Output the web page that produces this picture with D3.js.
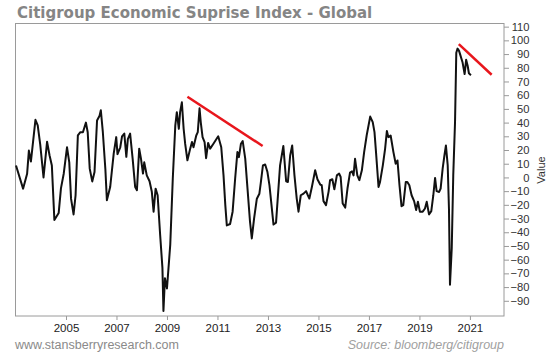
<!DOCTYPE html>
<html>
<head>
<meta charset="utf-8">
<script src="https://cdn.jsdelivr.net/npm/d3@7"></script>
<style>
  html, body { margin: 0; padding: 0; background: #fff; }
  svg { display: block; }
</style>
</head>
<body>
<svg id="chart" width="554" height="353"></svg>
<script>
// ---- data (decimal year, index value) ----
const dates = [
  2003.02,2003.30,2003.46,2003.53,2003.61,2003.79,2003.88,2003.98,2004.11,2004.25,
  2004.35,2004.44,2004.54,2004.71,2004.80,2004.91,2005.04,2005.13,2005.20,2005.30,
  2005.38,2005.47,2005.57,2005.67,2005.79,2005.86,2005.94,2006.04,2006.13,2006.23,
  2006.33,2006.38,2006.46,2006.56,2006.62,2006.75,2006.89,2006.99,2007.04,2007.15,
  2007.22,2007.31,2007.39,2007.45,2007.54,2007.64,2007.74,2007.81,2007.90,2007.97,
  2008.05,2008.10,2008.20,2008.31,2008.40,2008.47,2008.55,2008.63,2008.73,2008.82,
  2008.86,2008.92,2009.00,2009.13,2009.23,2009.33,2009.39,2009.47,2009.52,2009.59,
  2009.66,2009.72,2009.81,2009.92,2009.99,2010.05,2010.16,2010.22,2010.29,2010.34,
  2010.41,2010.49,2010.55,2010.63,2010.71,2010.84,2011.03,2011.15,2011.24,2011.31,
  2011.37,2011.50,2011.60,2011.70,2011.79,2011.85,2011.93,2012.00,2012.10,2012.19,
  2012.29,2012.36,2012.45,2012.56,2012.66,2012.72,2012.80,2012.89,2012.98,2013.06,
  2013.22,2013.32,2013.48,2013.61,2013.72,2013.79,2013.88,2013.96,2014.05,2014.14,
  2014.21,2014.30,2014.41,2014.51,2014.58,2014.64,2014.74,2014.87,2014.96,2015.07,
  2015.13,2015.20,2015.30,2015.40,2015.46,2015.55,2015.63,2015.73,2015.82,2015.88,
  2015.96,2016.06,2016.15,2016.25,2016.33,2016.39,2016.45,2016.54,2016.62,2016.72,
  2016.81,2016.91,2017.05,2017.15,2017.22,2017.28,2017.38,2017.44,2017.55,2017.64,
  2017.71,2017.77,2017.86,2017.97,2018.06,2018.13,2018.21,2018.29,2018.36,2018.46,
  2018.52,2018.60,2018.69,2018.79,2018.87,2018.94,2019.02,2019.13,2019.22,2019.29,
  2019.38,2019.47,2019.55,2019.62,2019.68,2019.78,2019.84,2019.92,2019.99,2020.05,
  2020.12,2020.17,2020.21,2020.28,2020.34,2020.41,2020.46,2020.51,2020.57,2020.63,
  2020.71,2020.79,2020.85,2020.91,2020.96,2021.04
];
const values = [
  8.7,-8.2,2.7,19.6,11.6,42,38,24,0,26,
  16,8.7,-31,-26,-8,2.7,22,11,-15.5,-27,
  -13,30.6,33,33,40,33,6.4,-2.9,3.9,41.5,
  45,49,33,6,-16.6,-7,17.3,29.4,17,22,
  30,32,15,28,32,13.7,-7,-9.3,21,13.7,
  2.8,11,1.5,-2.8,-10.5,-25,-8.2,-13,-42,-66,
  -97.5,-73.5,-81,-49,-1,38,47.6,35.5,47.6,54.8,
  35.5,24.6,12.5,21,25.8,22,30.6,33,50.4,40,
  29.4,25.8,14,25.2,21,24.6,30,22,1.5,-20,
  -35,-34,-25,-1,18.5,14.8,24.6,26.5,13.7,-8.2,
  -32.5,-44.5,-30,-15.5,-11.9,-3.4,8.7,9.4,3.9,-5.8,
  -34.4,-33,8.8,22.9,-2.8,-3.3,16,23.3,1.5,-15.4,
  -25,-13,-11.8,-10,-13,-15.4,-7,5.2,-1.3,-5.2,
  -5.7,-17.3,-20.2,-10.5,-2,-1.3,-8.6,1.5,2.8,0.3,
  -19,-22,-8.1,3.5,4.4,1.5,13.6,1.5,-2,5.2,
  18.5,30.6,44.4,40.3,33,18.5,-7,-3.3,8.8,20.9,
  33.8,29.4,30.6,18.5,10,12.4,-5.7,-21,-20.2,-3.3,
  -3.3,-5.7,-13,-17.3,-23.8,-17.8,-25,-25,-22.7,-17.8,
  -27,-24.6,-13,-0.4,-10,-10.6,-8.1,6.4,16,23.3,
  8.8,-22.7,-78.3,-51.7,1.5,40.3,91,94,92.3,88.7,
  83.8,75.4,85.8,81.5,76,74.6
];
// red trend lines: [startYear, startValue, endYear, endValue]
const trendLines = [
  [2009.81, 58.9, 2012.79, 22.9],
  [2020.56, 97.2, 2021.86, 74.9]
];
const yearTicks = [2005, 2007, 2009, 2011, 2013, 2015, 2017, 2019, 2021];
const valueTicks = d3.range(-90, 111, 10);
const titleText = "Citigroup Economic Suprise Index - Global";
const yLabel = "Value";
const leftFooter = "www.stansberryresearch.com";
const rightFooter = "Source: bloomberg/citigroup";

// ---- layout ----
const L = 15.5, R = 504, T = 23.5, B = 316;
const svg = d3.select("#chart");

const x = d3.scaleLinear().domain([2003.0, 2022.35]).range([L, R]);
const y = d3.scaleLinear().domain([-101.1, 112.3]).range([B, T]);

// title
svg.append("text")
  .attr("x", 17).attr("y", 18)
  .attr("font-family", "DejaVu Sans, Verdana, sans-serif")
  .attr("font-weight", "bold")
  .attr("font-size", 15)
  .attr("fill", "#858585")
  .text(titleText);

// plot frame
svg.append("rect")
  .attr("x", L).attr("y", T).attr("width", R - L).attr("height", B - T)
  .attr("fill", "none").attr("stroke", "#9a9a9a").attr("stroke-width", 1);

// x axis
const xAxis = d3.axisBottom(x).tickValues(yearTicks).tickFormat(d3.format("d"))
  .tickSize(4).tickPadding(4);
const gx = svg.append("g").attr("transform", `translate(0,${B})`).call(xAxis);
gx.select(".domain").remove();
gx.selectAll(".tick line").attr("stroke", "#9a9a9a");
gx.selectAll(".tick text")
  .attr("font-family", "Liberation Sans, Arial, sans-serif")
  .attr("font-size", 11.5).attr("fill", "#222");

// y axis (right)
const yAxis = d3.axisRight(y).tickValues(valueTicks).tickSize(5).tickPadding(20);
const gy = svg.append("g").attr("transform", `translate(${R},0)`).call(yAxis);
gy.select(".domain").remove();
gy.selectAll(".tick line").attr("stroke", "#9a9a9a");
gy.selectAll(".tick text")
  .attr("text-anchor", "end").attr("x", 25.5)
  .attr("font-family", "Liberation Sans, Arial, sans-serif")
  .attr("font-size", 11.2).attr("fill", "#333");

// axis title
svg.append("text")
  .attr("transform", "translate(545,170) rotate(-90)")
  .attr("text-anchor", "middle")
  .attr("font-family", "Liberation Sans, Arial, sans-serif")
  .attr("font-size", 11).attr("fill", "#333")
  .text(yLabel);

// series line
const pts = dates.map((d, i) => [d, values[i]]);
const line = d3.line().x(d => x(d[0])).y(d => y(d[1]));
svg.append("path")
  .datum(pts)
  .attr("d", line)
  .attr("fill", "none")
  .attr("stroke", "#111")
  .attr("stroke-width", 2)
  .attr("stroke-linejoin", "round");

// trend lines
svg.selectAll(".trend").data(trendLines).enter().append("line")
  .attr("class", "trend")
  .attr("x1", d => x(d[0])).attr("y1", d => y(d[1]))
  .attr("x2", d => x(d[2])).attr("y2", d => y(d[3]))
  .attr("stroke", "#e8161c").attr("stroke-width", 2.5);

// footers
svg.append("text")
  .attr("x", 15).attr("y", 349)
  .attr("font-family", "Liberation Sans, Arial, sans-serif")
  .attr("font-size", 12.5).attr("fill", "#8a8a8a")
  .text(leftFooter);
svg.append("text")
  .attr("x", 504).attr("y", 349)
  .attr("text-anchor", "end")
  .attr("font-family", "Liberation Sans, Arial, sans-serif")
  .attr("font-style", "italic")
  .attr("font-size", 12.5).attr("fill", "#a0a0a0")
  .text(rightFooter);
</script>
</body>
</html>
